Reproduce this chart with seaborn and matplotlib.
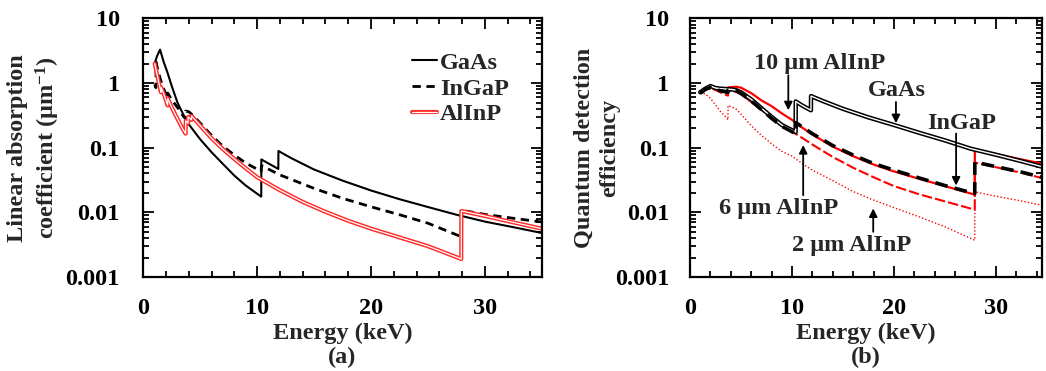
import numpy as np
import pandas as pd
import matplotlib
matplotlib.use('Agg')
import matplotlib.pyplot as plt
import matplotlib.patheffects as pe
from matplotlib.ticker import LogLocator, MultipleLocator, FuncFormatter, NullFormatter
import seaborn as sns

# ---------------- data: panel (a) linear absorption coefficient (um^-1) ----------------
E_gaas_a = [1.0, 1.2, 1.47, 1.8, 2.1, 2.5, 3.0, 3.5, 4.0, 5.0, 6.0, 7.0, 8.0, 9.0, 10.36,
            10.37, 11.0, 11.86, 11.87, 13.0, 15.0, 17.5, 20.0, 22.5, 25.0, 27.5, 30.0, 32.5, 35.0]
mu_gaas = [2.0, 2.6, 3.3, 2.1, 1.5, 0.9, 0.5, 0.33, 0.23, 0.135, 0.085, 0.056, 0.037, 0.026, 0.0175,
           0.066, 0.057, 0.047, 0.089, 0.069, 0.046, 0.031, 0.0218, 0.0160, 0.0121, 0.0092, 0.0072, 0.0059, 0.0048]

E_ingap_a = [1.0, 1.11, 1.12, 1.3, 1.5, 1.76, 2.14, 2.15, 2.5, 3.0, 3.5, 3.72, 3.73, 4.0, 4.5, 5.0, 6.0,
             7.0, 8.0, 9.0, 10.36, 10.37, 12.0, 15.0, 17.5, 20.0, 22.5, 25.0, 27.93, 27.94, 30.0, 32.5, 35.0]
mu_ingap = [0.95, 0.85, 2.1, 1.55, 1.15, 0.84, 0.58, 0.70, 0.55, 0.42, 0.31, 0.28, 0.37, 0.36, 0.30, 0.24,
            0.155, 0.105, 0.077, 0.058, 0.043, 0.053, 0.038, 0.0235, 0.0165, 0.0122, 0.0092, 0.0068, 0.0042,
            0.0108, 0.0093, 0.0081, 0.0071]

E_alinp_a = [1.0, 1.3, 1.55, 1.56, 1.8, 2.14, 2.15, 2.5, 3.0, 3.5, 3.72, 3.73, 3.93, 3.94, 4.23, 4.24,
             5.0, 6.0, 7.0, 8.0, 9.0, 10.0, 12.0, 14.0, 16.0, 18.0, 20.0, 22.5, 25.0, 27.93, 27.94,
             30.0, 32.5, 35.0]
mu_alinp = [2.0, 1.15, 0.72, 0.86, 0.68, 0.45, 0.58, 0.42, 0.28, 0.19, 0.165, 0.26, 0.24, 0.30, 0.27, 0.31,
            0.22, 0.14, 0.095, 0.067, 0.048, 0.035, 0.022, 0.0145, 0.0102, 0.0074, 0.0056, 0.0041, 0.0030,
            0.0019, 0.0105, 0.0088, 0.0070, 0.0056]

# ---------------- data: panel (b) quantum detection efficiency ----------------
E_qe_gaas = [1.0, 1.5, 2.0, 2.5, 3.0, 3.5, 4.0, 4.5, 5.0, 6.0, 7.0, 8.0, 9.0, 10.36, 10.37, 11.0,
             11.86, 11.87, 13.0, 15.0, 17.5, 20.0, 22.5, 25.0, 27.5, 30.0, 32.5, 34.5]
qe_gaas = [0.72, 0.82, 0.90, 0.84, 0.82, 0.81, 0.80, 0.78, 0.72, 0.56, 0.41, 0.30, 0.225, 0.175, 0.52, 0.45,
           0.38, 0.63, 0.53, 0.40, 0.295, 0.225, 0.17, 0.13, 0.097, 0.078, 0.062, 0.051]

E_qe_ingap = [1.0, 1.5, 2.0, 2.5, 3.0, 3.5, 3.72, 3.73, 4.5, 5.0, 6.0, 7.0, 8.0, 9.0, 10.36, 10.37, 11.0,
              12.0, 14.0, 16.0, 18.0, 20.0, 22.5, 25.0, 27.93, 27.94, 30.0, 32.5, 34.5]
qe_ingap = [0.70, 0.80, 0.86, 0.80, 0.76, 0.73, 0.72, 0.78, 0.76, 0.69, 0.53, 0.39, 0.285, 0.215, 0.165, 0.245,
            0.21, 0.165, 0.108, 0.077, 0.057, 0.045, 0.034, 0.026, 0.0195, 0.060, 0.051, 0.042, 0.035]

E_qe_al = [1.0, 1.5, 2.0, 2.5, 3.0, 3.5, 3.72, 3.73, 4.5, 5.0, 6.0, 7.0, 8.0, 9.0, 10.0, 11.0, 12.0,
           14.0, 16.0, 18.0, 20.0, 22.5, 25.0, 27.93, 27.94, 30.0, 32.5, 34.5]
qe_al10 = [0.72, 0.82, 0.88, 0.85, 0.83, 0.82, 0.82, 0.86, 0.88, 0.85, 0.70, 0.54, 0.44, 0.34, 0.27, 0.205,
           0.160, 0.104, 0.074, 0.055, 0.043, 0.033, 0.0255, 0.0188, 0.094, 0.080, 0.066, 0.057]
qe_al6 = [0.72, 0.80, 0.84, 0.78, 0.72, 0.66, 0.64, 0.76, 0.74, 0.68, 0.51, 0.39, 0.29, 0.225, 0.178, 0.142,
          0.112, 0.072, 0.049, 0.035, 0.0255, 0.019, 0.0148, 0.0110, 0.059, 0.050, 0.041, 0.034]
qe_al2 = [0.72, 0.68, 0.58, 0.46, 0.36, 0.30, 0.27, 0.45, 0.40, 0.33, 0.22, 0.155, 0.115, 0.088, 0.074, 0.057,
          0.045, 0.031, 0.021, 0.0155, 0.0118, 0.0085, 0.0060, 0.0037, 0.0208, 0.0178, 0.0150, 0.0129]

legend_labels = ["GaAs", "InGaP", "AlInP"]
y_ticks = [0.001, 0.01, 0.1, 1, 10]

# ---------------- style ----------------
sns.set_style('ticks')
plt.rcParams['font.family'] = ['Liberation Serif', 'DejaVu Serif']
plt.rcParams['font.weight'] = 'bold'
plt.rcParams['axes.labelweight'] = 'bold'
plt.rcParams['mathtext.fontset'] = 'custom'
plt.rcParams['mathtext.rm'] = 'Liberation Serif:bold'
plt.rcParams['mathtext.bf'] = 'Liberation Serif:bold'
plt.rcParams['mathtext.it'] = 'Liberation Serif:bold:italic'

FS = 17.5
fig = plt.figure(figsize=(10.46, 3.71), dpi=100)
ax1 = fig.add_axes([0.1370, 0.2534, 0.3809, 0.6968])
ax2 = fig.add_axes([0.6597, 0.2534, 0.3362, 0.6968])


def draw(ax, x, y, **kw):
    df = pd.DataFrame({'E': x, 'v': y})
    sns.lineplot(data=df, x='E', y='v', ax=ax, sort=False, estimator=None, legend=False, **kw)
    return ax.lines[-1]


def style_axes(ax, xmax, ypad):
    ax.set_yscale('log')
    ax.set_ylim(0.001, 10)
    ax.set_xlim(0, xmax)
    ax.xaxis.set_major_locator(MultipleLocator(10))
    ax.xaxis.set_minor_locator(MultipleLocator(2))
    ax.set_yticks(y_ticks)
    ax.yaxis.set_minor_locator(LogLocator(base=10, subs=np.arange(2, 10), numticks=20))
    ax.yaxis.set_major_formatter(FuncFormatter(lambda v, p: f'{v:g}'))
    ax.yaxis.set_minor_formatter(NullFormatter())
    ax.tick_params(which='both', direction='in', top=True, right=True, width=1.3,
                   labelsize=FS, colors='black')
    ax.tick_params(which='major', length=8)
    ax.tick_params(which='minor', length=4)
    ax.tick_params(axis='x', which='major', pad=15)
    ax.tick_params(axis='y', which='major', pad=ypad)
    for s in ax.spines.values():
        s.set_linewidth(1.6)
        s.set_color('black')
    ax.set_xlabel('')
    ax.set_ylabel('')


# ---------- panel (a) ----------
l1 = draw(ax1, E_gaas_a, mu_gaas, color='black', lw=1.5)
l2 = draw(ax1, E_ingap_a, mu_ingap, color='black', lw=2.0, linestyle=(0, (3, 2)))
l3 = draw(ax1, E_alinp_a, mu_alinp, color='white', lw=0.9,
          path_effects=[pe.Stroke(linewidth=3.0, foreground='#ff2a2a'), pe.Normal()])
style_axes(ax1, 35, 17)
ax1.set_ylabel('Linear absorption\ncoefficient (μm$^{\\mathbf{-1}}$)', fontsize=FS,
               fontweight='bold', linespacing=1.25)
ax1.yaxis.set_label_coords(-0.205, 0.5)
ax1.text(0.5, -0.22, 'Energy (keV)', transform=ax1.transAxes, ha='center', va='center',
         fontsize=FS, fontweight='bold')
ax1.text(0.5, -0.31, '(a)', transform=ax1.transAxes, ha='center', va='center',
         fontsize=FS, fontweight='bold')
leg = ax1.legend([l1, l2, l3], legend_labels, loc='upper left', bbox_to_anchor=(0.62, 0.955),
                 frameon=False, handlelength=1.0, handletextpad=0.15, labelspacing=0.15,
                 prop={'family': 'Liberation Serif', 'weight': 'bold', 'size': FS})

# ---------- panel (b) ----------
draw(ax2, E_qe_al, qe_al2, color='red', lw=1.0, linestyle=(0, (1, 1.5)))
draw(ax2, E_qe_al, qe_al6, color='red', lw=1.5, linestyle=(0, (5, 1.5)))
draw(ax2, E_qe_al, qe_al10, color='red', lw=1.6)
draw(ax2, E_qe_gaas, qe_gaas, color='white', lw=1.0,
     path_effects=[pe.Stroke(linewidth=3.2, foreground='black'), pe.Normal()])
draw(ax2, E_qe_ingap, qe_ingap, color='black', lw=2.6, linestyle=(0, (3.5, 2)))
style_axes(ax2, 34.5, 15)
ax2.set_ylabel('Quantum detection\nefficiency', fontsize=FS, fontweight='bold', linespacing=1.25)
ax2.yaxis.set_label_coords(-0.2, 0.5)
ax2.text(0.5, -0.22, 'Energy (keV)', transform=ax2.transAxes, ha='center', va='center',
         fontsize=FS, fontweight='bold')
ax2.text(0.5, -0.31, '(b)', transform=ax2.transAxes, ha='center', va='center',
         fontsize=FS, fontweight='bold')

arrow = dict(arrowstyle='-|>', color='black', lw=1.3, mutation_scale=12, shrinkA=0, shrinkB=0)
notes = [
    ('10 μm AlInP', (12.75, 2.0), (9.64, 0.38), (9.64, 1.32)),
    ('GaAs', (20.3, 0.78), (20.2, 0.24), (20.2, 0.51)),
    ('InGaP', (26.6, 0.237), (26.1, 0.026), (26.1, 0.166)),
    ('6 μm AlInP', (8.66, 0.0115), (11.1, 0.11), (11.1, 0.0184)),
    ('2 μm AlInP', (15.85, 0.0031), (17.97, 0.0115), (17.97, 0.0050)),
]
for txt, tpos, tip, tail in notes:
    ax2.text(tpos[0], tpos[1], txt, ha='center', va='center', fontsize=FS, fontweight='bold')
    ax2.annotate('', xy=tip, xytext=tail, arrowprops=arrow)

fig.savefig('out.png', dpi=100)
